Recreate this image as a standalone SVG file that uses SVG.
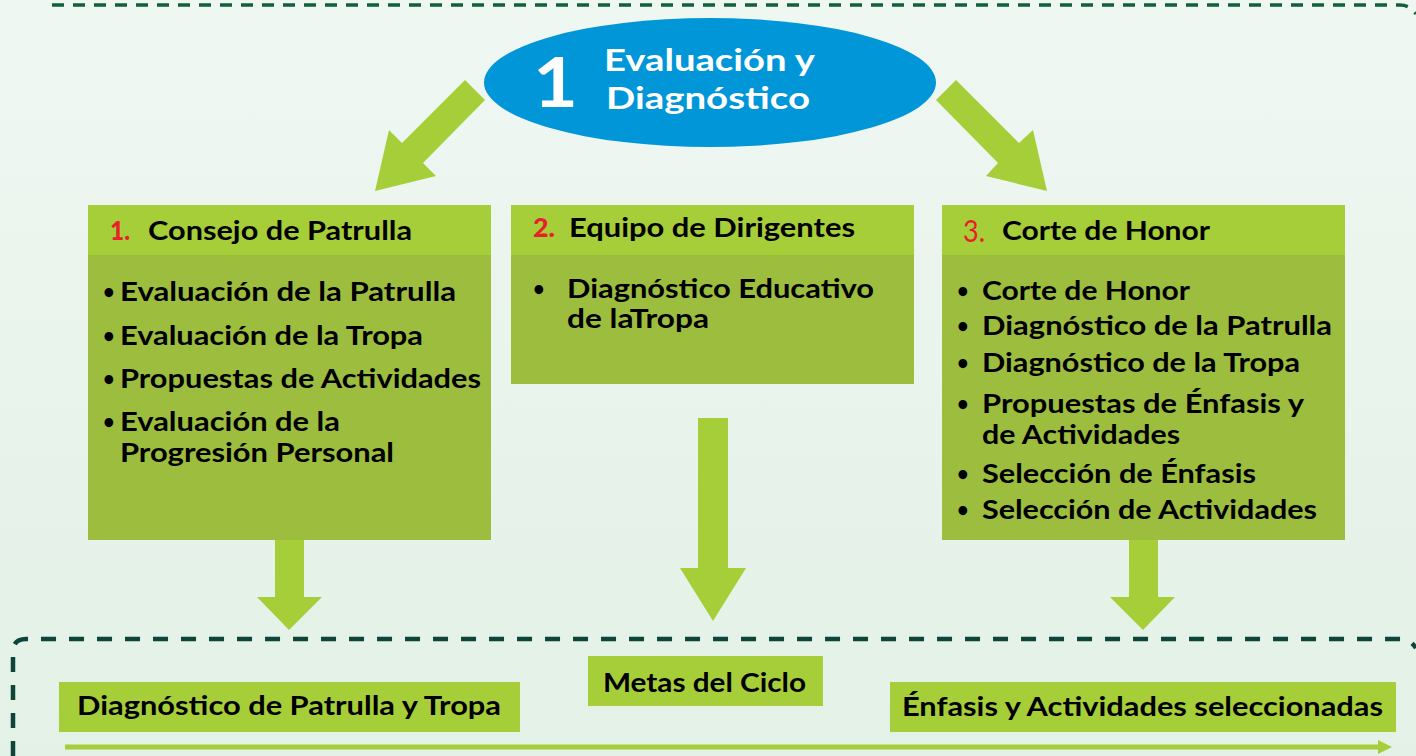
<svg xmlns="http://www.w3.org/2000/svg" width="1416" height="756" viewBox="0 0 1416 756">
<defs>
<linearGradient id="bg" x1="0" y1="0" x2="0" y2="1">
<stop offset="0" stop-color="#EFF7F2"/>
<stop offset="1" stop-color="#E3F1E6"/>
</linearGradient>
<style>
text{font-family:Lato,"Open Sans","Liberation Sans",sans-serif;font-weight:bold;}
.h{font-size:26px;fill:#000;}
.b{font-size:26px;fill:#000;}
.d{font-size:20px;fill:#000;}
.n{font-size:26px;fill:#E8202A;font-weight:900;}
.w{fill:#fff;}
.hd{fill:#A6CE39;}
.bd{fill:#9DBD3E;}
.ar{fill:#A6CE39;}
.lb{fill:#A6CE39;}
</style>
</defs>
<rect x="0" y="0" width="1416" height="756" fill="url(#bg)"/>

<g id="frames" fill="none">
<path d="M52,5 H1400 Q1410,5 1416,14" stroke="#12603A" stroke-width="3.5" stroke-dasharray="12 9"/>
<path d="M13,756 V652 Q13,639 26,639 H1400 Q1410,639 1416,648" stroke="#0E4538" stroke-width="4.5" stroke-dasharray="15 13"/>
</g>

<g id="connectors">
<polygon class="ar" points="465,80 485,100 423,163 436,176 375,191 389,130 402,143"/>
<polygon class="ar" points="956,80 936,100 998,163 986,176 1047,191 1033,130 1019,143"/>
<polygon class="ar" points="275,540 304,540 304,597 322,597 289,630 257,597 275,597"/>
<polygon class="ar" points="698,418 728,418 728,568 746,568 713,621 680,568 698,568"/>
<polygon class="ar" points="1129,540 1158,540 1158,597 1175,597 1143,630 1110,597 1129,597"/>
<polygon class="ar" points="65,744.5 1378,744.5 1378,740 1392,747 1378,754 1378,749.5 65,749.5"/>
</g>

<g id="ellipse">
<ellipse cx="710" cy="82.5" rx="226" ry="64.5" fill="#0096D8"/>
<text x="533" y="107" class="w" font-size="68" font-weight="900" textLength="45" lengthAdjust="spacingAndGlyphs">1</text>
<text x="604" y="71" class="w" font-size="31" textLength="211" lengthAdjust="spacingAndGlyphs">Evaluación y</text>
<text x="606" y="109" class="w" font-size="31" textLength="204" lengthAdjust="spacingAndGlyphs">Diagnóstico</text>
</g>

<g id="box1">
<rect x="88" y="205" width="403" height="335" class="bd"/>
<rect x="88" y="205" width="403" height="50" class="hd"/>
<text x="110" y="240" class="n" textLength="20" lengthAdjust="spacingAndGlyphs">1.</text>
<text x="148" y="240" class="h" textLength="264" lengthAdjust="spacingAndGlyphs">Consejo de Patrulla</text>
<text x="103" y="299" class="d">•</text>
<text x="120" y="301" class="b" textLength="336" lengthAdjust="spacingAndGlyphs">Evaluación de la Patrulla</text>
<text x="103" y="343" class="d">•</text>
<text x="120" y="345" class="b" textLength="303" lengthAdjust="spacingAndGlyphs">Evaluación de la Tropa</text>
<text x="103" y="386" class="d">•</text>
<text x="120" y="388" class="b" textLength="361" lengthAdjust="spacingAndGlyphs">Propuestas de Actividades</text>
<text x="103" y="429" class="d">•</text>
<text x="120" y="431" class="b" textLength="220" lengthAdjust="spacingAndGlyphs">Evaluación de la</text>
<text x="120" y="462" class="b" textLength="274" lengthAdjust="spacingAndGlyphs">Progresión Personal</text>
</g>

<g id="box2">
<rect x="511" y="205" width="403" height="179" class="bd"/>
<rect x="511" y="205" width="403" height="50" class="hd"/>
<text x="533" y="237" class="n" textLength="22" lengthAdjust="spacingAndGlyphs">2.</text>
<text x="569" y="237" class="h" textLength="286" lengthAdjust="spacingAndGlyphs">Equipo de Dirigentes</text>
<text x="533" y="296" class="d">•</text>
<text x="567" y="298" class="b" textLength="307" lengthAdjust="spacingAndGlyphs">Diagnóstico Educativo</text>
<text x="567" y="328" class="b" textLength="142" lengthAdjust="spacingAndGlyphs">de laTropa</text>
</g>

<g id="box3">
<rect x="942" y="205" width="403" height="335" class="bd"/>
<rect x="942" y="205" width="403" height="50" class="hd"/>
<text x="963" y="242" class="n" textLength="22" lengthAdjust="spacingAndGlyphs" style="font-weight:normal;font-size:30px">3.</text>
<text x="1002" y="240" class="h" textLength="208" lengthAdjust="spacingAndGlyphs">Corte de Honor</text>
<text x="957" y="298" class="d">•</text>
<text x="982" y="300" class="b" textLength="208" lengthAdjust="spacingAndGlyphs">Corte de Honor</text>
<text x="957" y="333" class="d">•</text>
<text x="982" y="335" class="b" textLength="350" lengthAdjust="spacingAndGlyphs">Diagnóstico de la Patrulla</text>
<text x="957" y="370" class="d">•</text>
<text x="982" y="372" class="b" textLength="318" lengthAdjust="spacingAndGlyphs">Diagnóstico de la Tropa</text>
<text x="957" y="411" class="d">•</text>
<text x="982" y="413" class="b" textLength="322" lengthAdjust="spacingAndGlyphs">Propuestas de Énfasis y</text>
<text x="982" y="444" class="b" textLength="198" lengthAdjust="spacingAndGlyphs">de Actividades</text>
<text x="957" y="481" class="d">•</text>
<text x="982" y="483" class="b" textLength="274" lengthAdjust="spacingAndGlyphs">Selección de Énfasis</text>
<text x="957" y="517" class="d">•</text>
<text x="982" y="519" class="b" textLength="335" lengthAdjust="spacingAndGlyphs">Selección de Actividades</text>
</g>

<g id="label-diagnostico">
<rect x="59" y="682" width="461" height="50" class="lb"/>
<text x="77" y="715" class="b" textLength="424" lengthAdjust="spacingAndGlyphs">Diagnóstico de Patrulla y Tropa</text>
</g>
<g id="label-metas">
<rect x="588" y="656" width="235" height="50" class="lb"/>
<text x="603" y="692" class="b" textLength="203" lengthAdjust="spacingAndGlyphs">Metas del Ciclo</text>
</g>
<g id="label-enfasis">
<rect x="890" y="682" width="506" height="50" class="lb"/>
<text x="902" y="716" class="b" textLength="481" lengthAdjust="spacingAndGlyphs">Énfasis y Actividades seleccionadas</text>
</g>
</svg>
